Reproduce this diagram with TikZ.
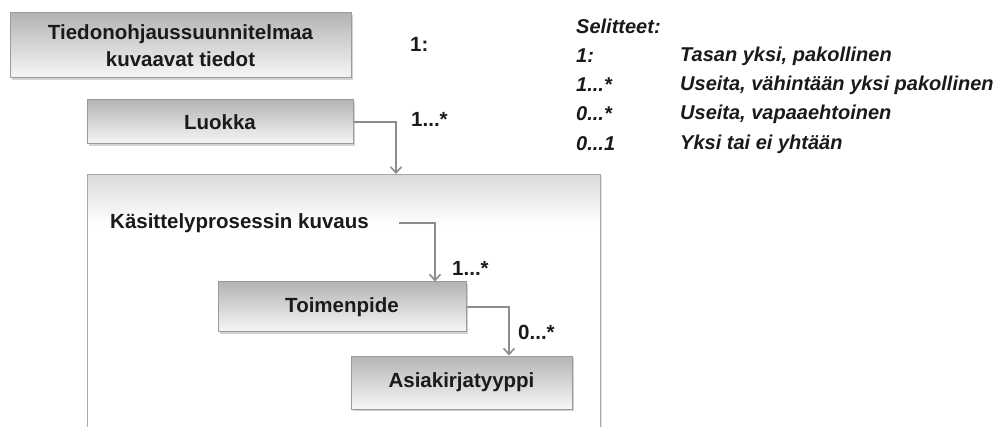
\documentclass[tikz,border=0pt]{standalone}
\usepackage{fontspec}
\setmainfont{Liberation Sans}
\usetikzlibrary{positioning, arrows.meta, shadows}
\definecolor{boxEdge}{HTML}{9A9A9A}
\definecolor{boxTop}{HTML}{B4B4B4}
\definecolor{boxBottom}{HTML}{F7F7F7}
\definecolor{panelTop}{HTML}{DADADA}
\definecolor{lineGray}{HTML}{8C8C8C}
\definecolor{textDark}{HTML}{1A1A1A}
\pgfdeclareverticalshading{panelshade}{100bp}{color(0bp)=(white); color(66bp)=(white); color(75bp)=(panelTop); color(100bp)=(panelTop)}

\begin{document}
\begin{tikzpicture}[x=1pt, y=-1pt, text=textDark,
  font=\bfseries\fontsize{20.5}{27}\selectfont,
  entity/.style={draw=boxEdge, line width=1pt, top color=boxTop, bottom color=boxBottom,
    drop shadow={shadow xshift=1.5pt, shadow yshift=-2pt, opacity=.35},
    align=center, inner sep=0pt},
  panel/.style={draw=boxEdge!85, line width=1pt, shading=panelshade,
    drop shadow={shadow xshift=1.5pt, shadow yshift=-1.5pt, opacity=.25}},
  conn/.style={draw=lineGray, line width=1.6pt, -{Straight Barb[length=6pt, width=11pt]}},
  mult/.style={anchor=west, inner sep=0pt},
  legend/.style={anchor=west, inner sep=0pt, font=\bfseries\itshape\fontsize{20}{24}\selectfont}]

\clip (0,0) rectangle (1006,427);

\node[entity, minimum width=341, minimum height=65] (tos) at (180.5,45.5)
  {Tiedonohjaussuunnitelmaa\\kuvaavat tiedot};
\node[entity, minimum width=266, minimum height=44] (luokka) at (220,122) {Luokka};
\node[panel, minimum width=513, minimum height=280, anchor=north west] (prosessi) at (87,174) {};
\node[anchor=west, inner sep=0pt] (kuvaus) at (110,223) {Käsittelyprosessin kuvaus};
\node[entity, minimum width=248, minimum height=50] (toim) at (342,307) {Toimenpide};
\node[entity, minimum width=221, minimum height=53] (asiak) at (461.5,382.5) {Asiakirjatyyppi};

% multiplicities
\node[mult] (mTos)    at (410,44)  {1:};
\node[mult] (mLuokka) at (411,119) {1...*};
\node[mult] (mToim)   at (452,268) {1...*};
\node[mult] (mAsiak)  at (518,332) {0...*};

\draw[conn] (luokka.east) -| ([xshift=309pt]prosessi.north west);
\draw[conn] ([xshift=30pt]kuvaus.east) -| ([xshift=93pt]toim.north);
\draw[conn] (toim.east) -| ([xshift=47.5pt]asiak.north);

% selitteet
\node[legend] (sel) at (576,26) {Selitteet:};
\foreach \y/\m/\t in {56/{1:}/{Tasan yksi, pakollinen},
                      85/{1...*}/{Useita, vähintään yksi pakollinen},
                      114/{0...*}/{Useita, vapaaehtoinen},
                      144/{0...1}/{Yksi tai ei yhtään}} {
  \node[legend] (k\y) at (576,\y) {\m};
  \node[legend] (s\y) at (680,\y) {\t};
}

\end{tikzpicture}
\end{document}
